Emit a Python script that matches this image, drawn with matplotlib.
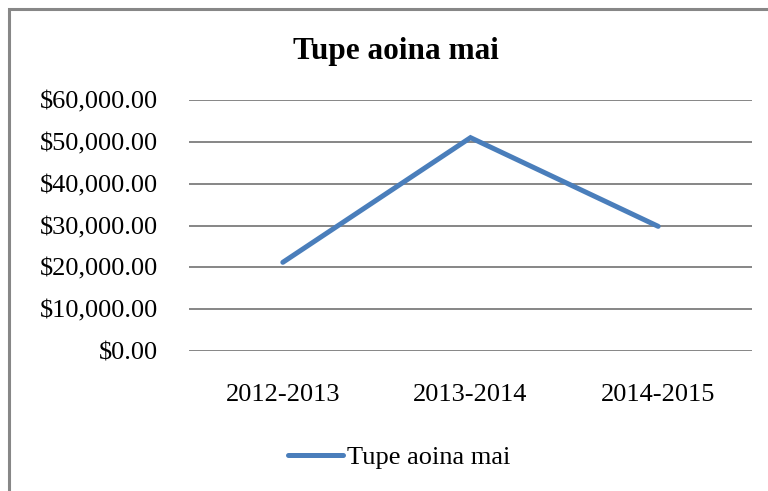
import matplotlib
matplotlib.use("Agg")
import matplotlib.pyplot as plt
from matplotlib.patches import Rectangle
from matplotlib.ticker import FuncFormatter

# data
periods = ["2012-2013", "2013-2014", "2014-2015"]
amounts = [21200, 51000, 29800]
series_name = "Tupe aoina mai"
y_ticks = [0, 10000, 20000, 30000, 40000, 50000, 60000]

plt.rcParams["font.family"] = ["Liberation Serif", "DejaVu Serif"]

W, H = 768, 491
fig = plt.figure(figsize=(W / 100, H / 100), dpi=100)

# outer chart border (right/bottom edges run off the image)
fig.patches.append(Rectangle((9 / W, -0.05), 1.1, 1 - 9 / H + 0.05,
                             transform=fig.transFigure, fill=False,
                             edgecolor="#878787", linewidth=2.2))

ax = fig.add_axes([189 / W, 1 - 351 / H, (752 - 189) / W, (351 - 100) / H])

x = range(len(periods))
line, = ax.plot(x, amounts, color="#4A7EBB", linewidth=3.6,
                solid_capstyle="round", solid_joinstyle="miter",
                label=series_name, zorder=3)

ax.set_xlim(-0.5, len(periods) - 0.5)
ax.set_ylim(0, 60000)
ax.set_yticks(y_ticks)
ax.yaxis.set_major_formatter(FuncFormatter(lambda v, p: f"${v:,.2f}"))
ax.set_xticks(list(x))
ax.set_xticklabels(periods)

ax.grid(axis="y", color="#868686", linewidth=1.4)
ax.set_axisbelow(True)
for s in ax.spines.values():
    s.set_visible(False)
ax.tick_params(axis="both", length=0, labelsize=19)
ax.tick_params(axis="y", pad=22)
ax.tick_params(axis="x", pad=24)

fig.text(396 / W, 1 - 51 / H, series_name, ha="center", va="center",
         fontsize=22.5, fontweight="bold")

fig.legend(handles=[line], loc="center", bbox_to_anchor=(399 / W, 1 - 457 / H),
           frameon=False, fontsize=19, handlelength=2.1, handletextpad=0.15)

fig.savefig("out.png", dpi=100)
plt.close(fig)
